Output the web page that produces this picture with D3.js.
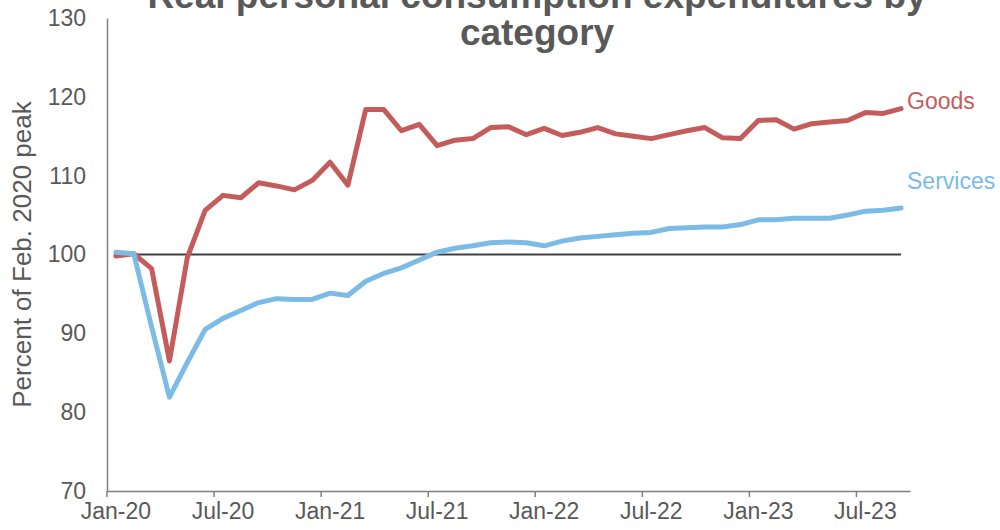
<!DOCTYPE html>
<html>
<head>
<meta charset="utf-8">
<script src="https://cdn.jsdelivr.net/npm/d3@7"></script>
<style>
  html, body { margin: 0; padding: 0; background: #fff; }
  svg { display: block; font-family: "Liberation Sans", Arial, sans-serif; }
</style>
</head>
<body>
<svg id="chart" width="1000" height="530"></svg>
<script>
// Monthly index levels, Jan-2020 through Sep-2023 (Feb 2020 = 100)
const months = [
  "Jan-20","Feb-20","Mar-20","Apr-20","May-20","Jun-20","Jul-20","Aug-20","Sep-20","Oct-20","Nov-20","Dec-20",
  "Jan-21","Feb-21","Mar-21","Apr-21","May-21","Jun-21","Jul-21","Aug-21","Sep-21","Oct-21","Nov-21","Dec-21",
  "Jan-22","Feb-22","Mar-22","Apr-22","May-22","Jun-22","Jul-22","Aug-22","Sep-22","Oct-22","Nov-22","Dec-22",
  "Jan-23","Feb-23","Mar-23","Apr-23","May-23","Jun-23","Jul-23","Aug-23","Sep-23"
];
const goods = [
  99.8, 100.1, 98.2, 86.5, 99.6, 105.6, 107.5, 107.2, 109.1, 108.7, 108.2, 109.4,
  111.7, 108.8, 118.4, 118.4, 115.7, 116.5, 113.8, 114.5, 114.7, 116.1, 116.2, 115.2,
  116.0, 115.1, 115.5, 116.1, 115.3, 115.0, 114.7, 115.2, 115.7, 116.1, 114.8, 114.7,
  117.0, 117.1, 115.9, 116.6, 116.8, 117.0, 118.0, 117.9, 118.5
];
const services = [
  100.3, 100.1, 90.8, 81.9, 86.3, 90.5, 91.9, 92.9, 93.9, 94.4, 94.3, 94.3,
  95.1, 94.8, 96.6, 97.6, 98.3, 99.3, 100.3, 100.8, 101.1, 101.5, 101.6, 101.5,
  101.1, 101.7, 102.1, 102.3, 102.5, 102.7, 102.8, 103.3, 103.4, 103.5, 103.5, 103.8,
  104.4, 104.4, 104.6, 104.6, 104.6, 105.0, 105.5, 105.6, 105.9
];
const baseline = months.map(() => 100);
const yTicks = [70, 80, 90, 100, 110, 120, 130];
const xTickLabels = ["Jan-20","Jul-20","Jan-21","Jul-21","Jan-22","Jul-22","Jan-23","Jul-23"];

const titleLines = ["Real personal consumption expenditures by", "category"];
const yTitle = "Percent of Feb. 2020 peak";

const svg = d3.select("#chart");
const textColor = "#595959";
const axisColor = "#808080";

const x = d3.scaleBand().domain(months).range([107, 910]).padding(0);
const y = d3.scaleLinear().domain([70, 130]).range([491, 18]);
const cx = d => x(d) + x.bandwidth() / 2;

// Title
svg.append("g").selectAll("text").data(titleLines).join("text")
  .attr("x", 537).attr("y", (d, i) => 8 + i * 37)
  .attr("text-anchor", "middle")
  .attr("font-size", 37).attr("font-weight", "bold")
  .attr("fill", textColor)
  .text(d => d);

// Y axis
const yAxis = svg.append("g").attr("transform", "translate(107,0)")
  .call(d3.axisLeft(y).tickValues(yTicks).tickSize(0).tickPadding(21));
yAxis.select(".domain").attr("stroke", axisColor).attr("stroke-width", 1.5);
yAxis.selectAll("text").attr("font-size", 23).attr("fill", textColor)
  .attr("font-family", "Liberation Sans, Arial, sans-serif");

// X axis: labels at category centres, tick marks on category boundaries
const xAxis = svg.append("g").attr("transform", "translate(0,491)")
  .call(d3.axisBottom(x).tickValues(xTickLabels).tickSize(0).tickPadding(12));
xAxis.select(".domain").attr("stroke", axisColor).attr("stroke-width", 1.5);
xAxis.selectAll("text").attr("font-size", 23).attr("fill", textColor)
  .attr("font-family", "Liberation Sans, Arial, sans-serif");
xAxis.selectAll("line.boundary").data(xTickLabels).join("line")
  .attr("class", "boundary")
  .attr("x1", d => x(d)).attr("x2", d => x(d))
  .attr("y1", 0).attr("y2", 6)
  .attr("stroke", axisColor).attr("stroke-width", 1.5);

// Y axis title
svg.append("text")
  .attr("transform", `translate(31,${y(100)}) rotate(-90)`)
  .attr("text-anchor", "middle")
  .attr("font-size", 26).attr("fill", textColor)
  .text(yTitle);

// Lines
const line = d3.line().x((d, i) => cx(months[i])).y(d => y(d));
svg.append("path").datum(baseline).attr("d", line)
  .attr("fill", "none").attr("stroke", "#404040").attr("stroke-width", 2.2);

const series = [
  { name: "Goods", values: goods, color: "#C45C5C" },
  { name: "Services", values: services, color: "#7BBBE6" }
];
svg.append("g").selectAll("path").data(series).join("path")
  .attr("d", d => line(d.values))
  .attr("fill", "none").attr("stroke", d => d.color)
  .attr("stroke-width", 5).attr("stroke-linejoin", "round").attr("stroke-linecap", "round");

// Series labels
const labelY = { Goods: 101, Services: 181 };
svg.append("g").selectAll("text").data(series).join("text")
  .attr("x", 907).attr("y", d => labelY[d.name])
  .attr("dy", "0.35em")
  .attr("font-size", 23).attr("fill", d => d.color)
  .text(d => d.name);
</script>
</body>
</html>
